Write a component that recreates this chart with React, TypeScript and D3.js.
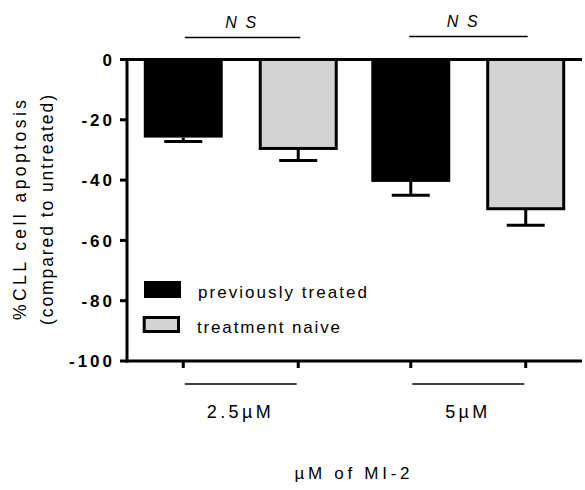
import React from "react";
import * as d3 from "d3";

const groups = ["2.5\u00b5M", "5\u00b5M"];
const seriesNames = ["previously treated", "treatment naive"];
const previouslyTreated = [-25.9, -40.6];
const previouslyTreatedErr = [1.3, 4.4];
const treatmentNaive = [-29.5, -49.5];
const treatmentNaiveErr = [4.0, 5.5];
const yTicks = [0, -20, -40, -60, -80, -100];
const sigLabels = ["NS", "NS"];
const yTitle = ["%CLL cell apoptosis", "(compared to untreated)"];
const xTitle = "\u00b5M of MI-2";

const W = 585;
const H = 490;
const FONT = "Arial, 'Liberation Sans', Helvetica, sans-serif";

export default function App() {
  const y = d3.scaleLinear().domain([0, -100]).range([59.5, 361]);
  const x0 = d3.scaleBand<string>().domain(groups).range([127, 582]).padding(0);
  const x1 = d3
    .scaleBand<string>()
    .domain(seriesNames)
    .range([0, x0.bandwidth()])
    .paddingInner(0.313)
    .paddingOuter(0.146);
  const bw = x1.bandwidth();
  const values = [previouslyTreated, treatmentNaive];
  const errs = [previouslyTreatedErr, treatmentNaiveErr];
  const fills = ["#000000", "#d3d3d3"];
  const capW = 38;
  const groupLabelLen = [64, 42];
  const nsY = [28, 26.5];
  const nsLineY = [37.5, 36.5];
  const nsDx = [0, -6];
  const tickSp = 3;

  return (
    <svg width={W} height={H} style={{ position: "absolute", left: 0, top: 0 }} fontFamily={FONT}>
      <rect width={W} height={H} fill="#fff" />
      {/* bars */}
      {groups.map((g, gi) =>
        seriesNames.map((s, si) => {
          const v = values[si][gi];
          const e = errs[si][gi];
          const bx = (x0(g) as number) + (x1(s) as number);
          const cx = bx + bw / 2;
          const isGrey = si === 1;
          return (
            <g key={g + s}>
              <line x1={cx} x2={cx} y1={y(v)} y2={y(v - e)} stroke="#000" strokeWidth={3} />
              <line x1={cx - capW / 2} x2={cx + capW / 2} y1={y(v - e)} y2={y(v - e)} stroke="#000" strokeWidth={3} />
              {isGrey ? (
                <rect x={bx + 1.5} y={y(0)} width={bw - 3} height={y(v) - y(0)} fill={fills[si]} stroke="#000" strokeWidth={3} />
              ) : (
                <rect x={bx} y={y(0)} width={bw} height={y(v) - y(0)} fill={fills[si]} />
              )}
            </g>
          );
        })
      )}
      {/* zero line */}
      <line x1={125.5} x2={582} y1={y(0)} y2={y(0)} stroke="#000" strokeWidth={3} />
      {/* bottom axis */}
      <line x1={125.5} x2={582} y1={y(-100)} y2={y(-100)} stroke="#000" strokeWidth={3} />
      {/* y axis */}
      <line x1={127} x2={127} y1={y(0) - 1.5} y2={y(-100) + 1.5} stroke="#000" strokeWidth={3} />
      {yTicks.map((t) => (
        <g key={t}>
          <line x1={120} x2={127} y1={y(t)} y2={y(t)} stroke="#000" strokeWidth={3} />
          <text x={112 + tickSp} y={y(t)} dy="0.36em" textAnchor="end" fontSize={17} fontWeight="bold" letterSpacing={tickSp}>
            {t}
          </text>
        </g>
      ))}
      {/* bottom ticks at bar centres, underlines, group labels, significance */}
      {groups.map((g, gi) => {
        const c1 = (x0(g) as number) + (x1(seriesNames[0]) as number) + bw / 2;
        const c2 = (x0(g) as number) + (x1(seriesNames[1]) as number) + bw / 2;
        const gc = (x0(g) as number) + x0.bandwidth() / 2;
        return (
          <g key={g}>
            <line x1={c1} x2={c1} y1={y(-100)} y2={y(-100) + 7} stroke="#000" strokeWidth={3} />
            <line x1={c2} x2={c2} y1={y(-100)} y2={y(-100) + 7} stroke="#000" strokeWidth={3} />
            <line x1={c1 + 1.5} x2={c2 - 1.5} y1={384} y2={384} stroke="#000" strokeWidth={1.5} />
            <text x={gc - 2} y={418} textAnchor="middle" fontSize={18} textLength={groupLabelLen[gi]} lengthAdjust="spacing">
              {g}
            </text>
            <line x1={c1 + 1.5 + (gi === 1 ? -3 : 0)} x2={c2 + 2} y1={nsLineY[gi]} y2={nsLineY[gi]} stroke="#000" strokeWidth={1.5} />
            <text x={gc + nsDx[gi]} y={nsY[gi]} textAnchor="middle" fontSize={16} fontStyle="italic" textLength={31} lengthAdjust="spacing">
              {sigLabels[gi]}
            </text>
          </g>
        );
      })}
      {/* legend */}
      <rect x={144} y={281} width={37} height={17} fill="#000" />
      <text x={198} y={298} fontSize={17} textLength={169} lengthAdjust="spacing">
        {seriesNames[0]}
      </text>
      <rect x={144.2} y={317.5} width={34.3} height={14} fill="#d3d3d3" stroke="#000" strokeWidth={3} />
      <text x={197} y={333} fontSize={17} textLength={143} lengthAdjust="spacing">
        {seriesNames[1]}
      </text>
      {/* y-axis title */}
      <text transform="translate(26,210) rotate(-90)" textAnchor="middle" fontSize={17.5} textLength={220} lengthAdjust="spacing">
        {yTitle[0]}
      </text>
      <text transform="translate(53,210) rotate(-90)" textAnchor="middle" fontSize={17.5} textLength={230} lengthAdjust="spacing">
        {yTitle[1]}
      </text>
      {/* x-axis title */}
      <text x={352} y={479} textAnchor="middle" fontSize={17} textLength={115} lengthAdjust="spacing">
        {xTitle}
      </text>
    </svg>
  );
}
